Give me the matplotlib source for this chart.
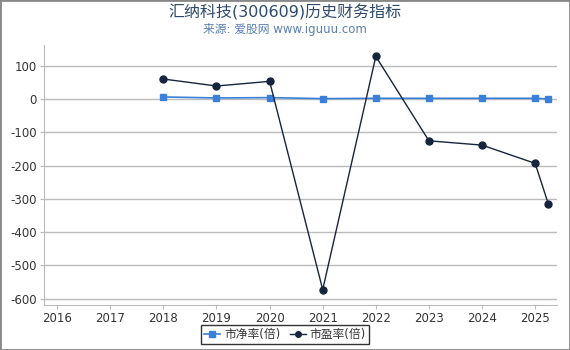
import matplotlib
matplotlib.use("Agg")
import matplotlib.pyplot as plt
import numpy as np

plt.rcParams['font.family'] = ['DejaVu Sans', 'Noto Sans CJK SC']
plt.rcParams['axes.unicode_minus'] = False

# dates as decimal years
dates = [2018.0, 2019.0, 2020.0, 2021.0, 2022.0, 2023.0, 2024.0, 2025.0, 2025.25]
pb = [7, 4, 5, 2, 3, 3, 3, 3, 1]
pe = [61, 40, 54, -573, 129, -125, -138, -193, -316]
years = [2016, 2017, 2018, 2019, 2020, 2021, 2022, 2023, 2024, 2025]

fig = plt.figure(figsize=(5.7, 3.5), dpi=100)
ax = fig.add_axes([0.077, 0.128, 0.901, 0.743])

ax.plot(dates, pb, color="#3a80d8", marker="s", markersize=5, linewidth=1.2, label="市净率(倍)", zorder=3)
ax.plot(dates, pe, color="#15253d", marker="o", markersize=5, linewidth=1.0, label="市盈率(倍)", zorder=4)

ax.set_xlim(2015.75, 2025.42)
ax.set_ylim(-620, 163)
ax.set_xticks(years)
ax.set_yticks([100, 0, -100, -200, -300, -400, -500, -600])
ax.tick_params(colors="#333333", labelsize=8.5, length=3, pad=2)
ax.tick_params(axis="x", color="#bbbbbb")
ax.tick_params(axis="y", color="#bbbbbb")
ax.grid(axis="y", color="#bbbbbb", linewidth=1)
ax.set_axisbelow(True)
for s in ["top", "right"]:
    ax.spines[s].set_visible(False)
ax.spines["left"].set_color("#bbbbbb")
ax.spines["bottom"].set_color("#bbbbbb")

fig.text(0.5, 0.965, "汇纳科技(300609)历史财务指标", ha="center", va="center", fontsize=11.5, color="#2e4a6b")
fig.text(0.5, 0.915, "来源: 爱股网 www.iguuu.com", ha="center", va="center", fontsize=8.5, color="#5a7fae")

leg = fig.legend(loc="lower center", bbox_to_anchor=(0.5, 0.0), ncol=2, fontsize=8.5, frameon=True,
                 fancybox=False, edgecolor="black", handlelength=1.4, handletextpad=0.3, columnspacing=0.8,
                 borderpad=0.25, markerscale=0.8)
leg.get_frame().set_linewidth(1.0)
for t in leg.get_texts():
    t.set_color("#333333")

# outer gray border
fig.patches.append(plt.Rectangle((0, 0), 1, 1, transform=fig.transFigure, fill=False,
                                 edgecolor="#888888", linewidth=2))

fig.savefig("out.png", dpi=100)
